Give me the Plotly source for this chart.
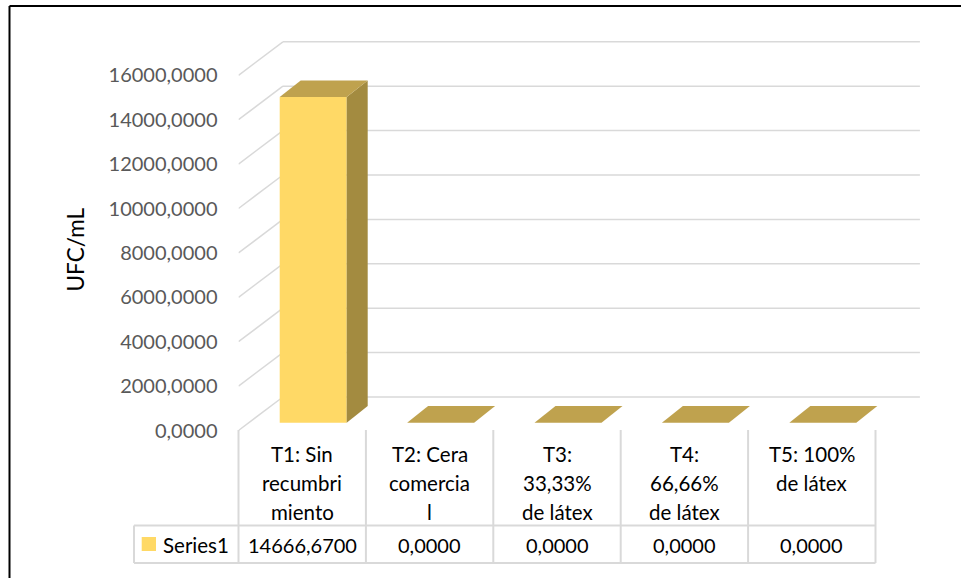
import plotly.graph_objects as go

# ---------------- data ----------------
categories = ["T1: Sin recumbrimiento", "T2: Cera comercial", "T3: 33,33% de látex",
              "T4: 66,66% de látex", "T5: 100% de látex"]
category_lines = [["T1: Sin", "recumbri", "miento"],
                  ["T2: Cera", "comercia", "l"],
                  ["T3:", "33,33%", "de látex"],
                  ["T4:", "66,66%", "de látex"],
                  ["T5: 100%", "de látex"]]
series_name = "Series1"
values = [14666.67, 0.0, 0.0, 0.0, 0.0]
y_ticks = [0, 2000, 4000, 6000, 8000, 10000, 12000, 14000, 16000]
y_title = "UFC/mL"

# ---------------- layout geometry (pixels) ----------------
W, H = 961, 578
X0 = 238.5      # px of front-left floor corner
CW = 127.4      # px per category
K = 0.0222      # px per value unit
Y0 = 430.5      # px of front floor (value 0)
WALL_DX, WALL_DY = 44.4, 33.5          # depth of the floor
BAR_OX, BAR_OY = 11.0, 7.8             # bar front offset in depth
BAR_DX, BAR_DY = 21.0, 16.7            # bar depth
BAR_W = 67.0

FRONT = "#FFD966"
TOP = "#BFA24E"
SIDE = "#A38B40"
GRID = "#D9D9D9"
FONT = "Lato"

n = len(values)
ux = lambda p: p / CW          # px -> category units
uy = lambda p: p / K           # px -> value units
paper_x = lambda p: p / W
paper_y = lambda p: 1 - p / H

fig = go.Figure()

# back wall gridlines (3D), drawn below the traces
x_front_left = -0.5
x_back_left = -0.5 + ux(WALL_DX)
x_back_right = n - 0.5 + ux(WALL_DX)
shapes = []
for t in y_ticks:
    tb = t + uy(WALL_DY)
    shapes.append(dict(type="line", xref="x", yref="y", x0=x_front_left, y0=t,
                       x1=x_back_left, y1=tb, line=dict(color=GRID, width=1.5), layer="below"))
    shapes.append(dict(type="line", xref="x", yref="y", x0=x_back_left, y0=tb,
                       x1=x_back_right, y1=tb, line=dict(color=GRID, width=1.5), layer="below"))

# bar front faces
ox, oy = ux(BAR_OX), uy(BAR_OY)
bw = ux(BAR_W)
dx, dy = ux(BAR_DX), uy(BAR_DY)
fig.add_trace(go.Bar(x=[i + ox for i in range(n)], y=values, base=oy, width=bw,
                     marker=dict(color=FRONT, line=dict(width=0)),
                     name=series_name, showlegend=False, hoverinfo="skip"))

# side and top faces
for i, v in enumerate(values):
    xl = i + ox - bw / 2
    xr = i + ox + bw / 2
    yb = oy
    yt = oy + v
    if v > 0:
        fig.add_trace(go.Scatter(x=[xr, xr, xr + dx, xr + dx, xr],
                                 y=[yb, yt, yt + dy, yb + dy, yb],
                                 fill="toself", fillcolor=SIDE, mode="lines",
                                 line=dict(width=0, color=SIDE),
                                 showlegend=False, hoverinfo="skip"))
    fig.add_trace(go.Scatter(x=[xl, xr, xr + dx, xl + dx, xl],
                             y=[yt, yt, yt + dy, yt + dy, yt],
                             fill="toself", fillcolor=TOP, mode="lines",
                             line=dict(width=0, color=TOP),
                             showlegend=False, hoverinfo="skip"))

# ---------------- data table ----------------
TBL_TOP, TBL_MID, TBL_BOT = 430.0, 525.5, 563.0
LEG_LEFT = 134.0
for j in range(n + 1):
    xp = X0 + j * CW
    shapes.append(dict(type="line", xref="paper", yref="paper",
                       x0=paper_x(xp), x1=paper_x(xp), y0=paper_y(TBL_TOP), y1=paper_y(TBL_BOT),
                       line=dict(color=GRID, width=2)))
shapes.append(dict(type="line", xref="paper", yref="paper",
                   x0=paper_x(LEG_LEFT), x1=paper_x(LEG_LEFT), y0=paper_y(TBL_MID), y1=paper_y(TBL_BOT),
                   line=dict(color=GRID, width=2)))
for yp in (TBL_MID, TBL_BOT):
    shapes.append(dict(type="line", xref="paper", yref="paper",
                       x0=paper_x(LEG_LEFT), x1=paper_x(X0 + n * CW), y0=paper_y(yp), y1=paper_y(yp),
                       line=dict(color=GRID, width=2)))
# legend key
shapes.append(dict(type="rect", xref="paper", yref="paper",
                   x0=paper_x(141.7), x1=paper_x(156), y0=paper_y(551), y1=paper_y(537),
                   fillcolor=FRONT, line=dict(width=0)))
# outer frame (top + left edges visible)
shapes.append(dict(type="line", xref="paper", yref="paper", x0=paper_x(9.5), x1=1.01,
                   y0=paper_y(6), y1=paper_y(6), line=dict(color="black", width=2)))
shapes.append(dict(type="line", xref="paper", yref="paper", x0=paper_x(9.5), x1=paper_x(9.5),
                   y0=paper_y(6), y1=-0.01, line=dict(color="black", width=2)))

annotations = []
line_y = [454, 483, 512]
for i, lines in enumerate(category_lines):
    cx = paper_x(X0 + (i + 0.5) * CW)
    for k, txt in enumerate(lines):
        annotations.append(dict(x=cx, y=paper_y(line_y[k]), xref="paper", yref="paper",
                                text=txt, showarrow=False, xanchor="center", yanchor="middle",
                                font=dict(family=FONT, size=20.5, color="#000000")))
    annotations.append(dict(x=cx, y=paper_y(545), xref="paper", yref="paper",
                            text=f"{values[i]:.4f}".replace(".", ","), showarrow=False,
                            xanchor="center", yanchor="middle",
                            font=dict(family=FONT, size=20, color="#000000")))
annotations.append(dict(x=paper_x(161), y=paper_y(545), xref="paper", yref="paper",
                        text=series_name, showarrow=False, xanchor="left", yanchor="middle",
                        font=dict(family=FONT, size=20.5, color="#000000")))
annotations.append(dict(x=paper_x(75.5), y=paper_y(250), xref="paper", yref="paper",
                        text=y_title, showarrow=False, textangle=-90,
                        xanchor="center", yanchor="middle",
                        font=dict(family=FONT, size=22.5, color="#000000")))

fig.update_layout(
    width=W, height=H, margin=dict(l=0, r=0, t=0, b=0),
    paper_bgcolor="white", plot_bgcolor="rgba(0,0,0,0)",
    showlegend=False, shapes=shapes, annotations=annotations,
    xaxis=dict(domain=[paper_x(X0), 1], range=[-0.5, -0.5 + (W - X0) / CW],
               visible=False, fixedrange=True),
    yaxis=dict(domain=[0, 1], range=[(Y0 - H) / K, Y0 / K],
               tickvals=y_ticks, ticktext=[f"{t:.4f}".replace(".", ",") for t in y_ticks],
               showgrid=False, zeroline=False, showline=False, ticks="",
               ticklabelstandoff=20,
               tickfont=dict(family=FONT, size=20, color="#595959"), fixedrange=True),
)

fig.write_html("out.html")
